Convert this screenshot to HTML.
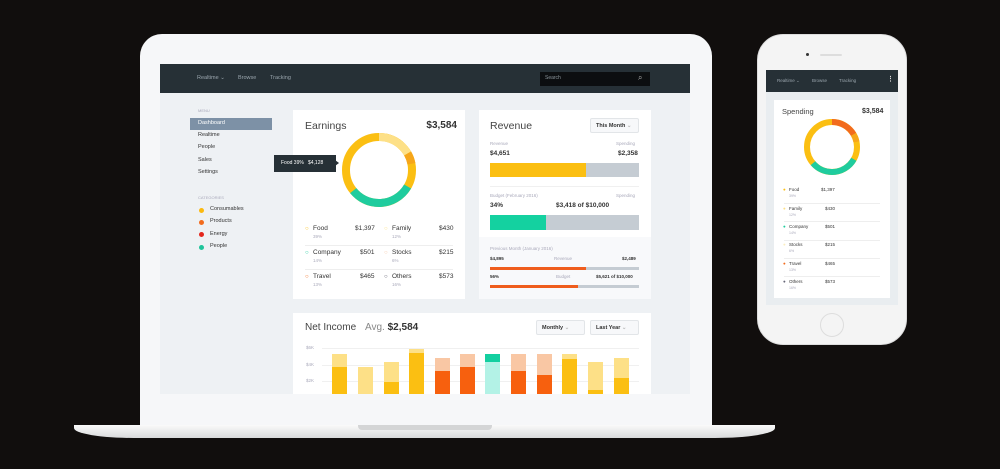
<!DOCTYPE html><html><head><style>
*{margin:0;padding:0;box-sizing:border-box}
body{width:1000px;height:469px;background:#110e0d;position:relative;overflow:hidden;font-family:"Liberation Sans",sans-serif;color:#333}
.a{position:absolute}
.t{position:absolute;font-size:6px;white-space:nowrap;line-height:1}
.g{color:#aab}
.b{font-weight:bold}
.card{position:absolute;background:#fff}
.dd{position:absolute;background:#f7f8fa;border:1px solid #e2e5e8;border-radius:2px;font-size:5.5px;font-weight:bold;padding:4px 0 0 5px;color:#333}
</style></head><body>
<!-- laptop -->
<div class="a" style="left:140px;top:34px;width:572px;height:395px;background:#f6f7f9;border-radius:22px 22px 0 0"></div>
<div class="a" style="left:74px;top:425px;width:701px;height:13px;background:linear-gradient(#fafafa,#d9dadb);border-radius:0 0 60px 60px/0 0 10px 10px"></div>
<div class="a" style="left:358px;top:425px;width:134px;height:5px;background:#d4d5d6;border-radius:0 0 4px 4px"></div>
<div class="a" style="left:160px;top:64px;width:530px;height:330px;background:#eef1f4"></div>
<div class="a" style="left:160px;top:64px;width:530px;height:29px;background:#263036"></div>
<div class="t" style="left:197px;top:76px;color:#9aa5ad;font-size:5.5px">Realtime ⌄</div>
<div class="t" style="left:238px;top:76px;color:#9aa5ad;font-size:5.5px">Browse</div>
<div class="t" style="left:270px;top:76px;color:#9aa5ad;font-size:5.5px">Tracking</div>
<div class="a" style="left:540px;top:72px;width:110px;height:14px;background:#0c0e10"></div>
<div class="t" style="left:545px;top:76px;color:#8a949a;font-size:5px">Search</div>
<div class="t" style="left:638px;top:74px;color:#aaa;font-size:8px">⌕</div>
<!-- sidebar -->
<div class="t g" style="left:198px;top:109px;font-size:4px">MENU</div>
<div class="a" style="left:190px;top:118px;width:82px;height:12px;background:#7d91a6"></div>
<div class="t" style="left:198px;top:121px;color:#fff;font-size:5.5px">Dashboard</div>
<div class="t" style="left:198px;top:133px;font-size:5.5px">Realtime</div>
<div class="t" style="left:198px;top:145px;font-size:5.5px">People</div>
<div class="t" style="left:198px;top:158px;font-size:5.5px">Sales</div>
<div class="t" style="left:198px;top:170px;font-size:5.5px">Settings</div>
<div class="t g" style="left:198px;top:196px;font-size:4px">CATEGORIES</div>
<div class="a" style="left:199px;top:208px;width:5px;height:5px;border-radius:50%;background:#fbb90f"></div><div class="t" style="left:210px;top:207px;font-size:5.5px">Consumables</div>
<div class="a" style="left:199px;top:220px;width:5px;height:5px;border-radius:50%;background:#f26b1d"></div><div class="t" style="left:210px;top:219px;font-size:5.5px">Products</div>
<div class="a" style="left:199px;top:232px;width:5px;height:5px;border-radius:50%;background:#e3261c"></div><div class="t" style="left:210px;top:232px;font-size:5.5px">Energy</div>
<div class="a" style="left:199px;top:245px;width:5px;height:5px;border-radius:50%;background:#1fc49a"></div><div class="t" style="left:210px;top:244px;font-size:5.5px">People</div>
<!-- earnings -->
<div class="card" style="left:293px;top:110px;width:172px;height:189px"></div>
<div class="t" style="left:305px;top:121px;font-size:10.5px;color:#444">Earnings</div>
<div class="t b" style="left:420px;top:121px;font-size:10px;width:37px;text-align:right">$3,584</div>
<svg class="a" style="left:339px;top:130px" width="80" height="80" viewBox="0 0 80 80">
<g transform="rotate(-90 40 40)" fill="none" stroke-width="8">
<circle cx="40" cy="40" r="33" stroke="#fbbf12"/>
<circle cx="40" cy="40" r="33" stroke="#fde087" stroke-dasharray="34.5 173" stroke-dashoffset="0"/>
<circle cx="40" cy="40" r="33" stroke="#f6a61a" stroke-dasharray="11 196" stroke-dashoffset="-34.5"/>
<circle cx="40" cy="40" r="33" stroke="#1fcc9e" stroke-dasharray="64 143" stroke-dashoffset="-69"/>
</g></svg>
<div class="a" style="left:274px;top:155px;width:62px;height:17px;background:#263036"></div>
<div class="a" style="left:335px;top:160px;border:3px solid transparent;border-left:4px solid #263036"></div>
<div class="t" style="left:281px;top:161px;color:#fff;font-size:5px">Food 39% &nbsp; $4,128</div>
<div class="a" style="left:305px;top:245px;width:148px;height:1px;background:#eee"></div>
<div class="a" style="left:305px;top:269px;width:148px;height:1px;background:#eee"></div>
<div class="t" style="left:305px;top:226px;font-size:6px;color:#fbbf12">○</div><div class="t" style="left:313px;top:226px;font-size:6.5px">Food</div><div class="t g" style="left:313px;top:235px;font-size:4.5px">39%</div><div class="t" style="left:355px;top:226px;font-size:6.5px">$1,397</div>
<div class="t" style="left:384px;top:226px;font-size:6px;color:#fde087">○</div><div class="t" style="left:392px;top:226px;font-size:6.5px">Family</div><div class="t g" style="left:392px;top:235px;font-size:4.5px">12%</div><div class="t" style="left:439px;top:226px;font-size:6.5px">$430</div>
<div class="t" style="left:305px;top:250px;font-size:6px;color:#1fcc9e">○</div><div class="t" style="left:313px;top:250px;font-size:6.5px">Company</div><div class="t g" style="left:313px;top:259px;font-size:4.5px">14%</div><div class="t" style="left:360px;top:250px;font-size:6.5px">$501</div>
<div class="t" style="left:384px;top:250px;font-size:6px;color:#f8c8a8">○</div><div class="t" style="left:392px;top:250px;font-size:6.5px">Stocks</div><div class="t g" style="left:392px;top:259px;font-size:4.5px">6%</div><div class="t" style="left:439px;top:250px;font-size:6.5px">$215</div>
<div class="t" style="left:305px;top:274px;font-size:6px;color:#f26b1d">○</div><div class="t" style="left:313px;top:274px;font-size:6.5px">Travel</div><div class="t g" style="left:313px;top:283px;font-size:4.5px">13%</div><div class="t" style="left:360px;top:274px;font-size:6.5px">$465</div>
<div class="t" style="left:384px;top:274px;font-size:6px;color:#556">○</div><div class="t" style="left:392px;top:274px;font-size:6.5px">Others</div><div class="t g" style="left:392px;top:283px;font-size:4.5px">16%</div><div class="t" style="left:439px;top:274px;font-size:6.5px">$573</div>
<!-- revenue -->
<div class="card" style="left:479px;top:110px;width:172px;height:189px"></div>
<div class="a" style="left:479px;top:237px;width:172px;height:62px;background:#f8f9fb"></div>
<div class="t" style="left:490px;top:121px;font-size:10.5px;color:#444">Revenue</div>
<div class="dd" style="left:590px;top:118px;width:49px;height:15px">This Month <span style="color:#bbb">⌄</span></div>
<div class="t g" style="left:490px;top:142px;font-size:4.5px">Revenue</div><div class="t g" style="left:616px;top:142px;font-size:4.5px">Spending</div>
<div class="t b" style="left:490px;top:151px;font-size:6.5px">$4,651</div><div class="t b" style="left:618px;top:151px;font-size:6.5px">$2,358</div>
<div class="a" style="left:490px;top:163px;width:149px;height:14px;background:#c5ccd3"></div>
<div class="a" style="left:490px;top:163px;width:96px;height:14px;background:#fbbf12"></div>
<div class="a" style="left:490px;top:186px;width:149px;height:1px;background:#f0f0f0"></div>
<div class="t g" style="left:490px;top:194px;font-size:4.5px">Budget (February 2016)</div><div class="t g" style="left:616px;top:194px;font-size:4.5px">Spending</div>
<div class="t b" style="left:490px;top:203px;font-size:6.5px">34%</div><div class="t b" style="left:556px;top:203px;font-size:6.5px">$3,418 of $10,000</div>
<div class="a" style="left:490px;top:215px;width:149px;height:15px;background:#c5ccd3"></div>
<div class="a" style="left:490px;top:215px;width:56px;height:15px;background:#14d1a0"></div>
<div class="t g" style="left:490px;top:247px;font-size:4.5px">Previous Month (January 2016)</div>
<div class="t b" style="left:490px;top:257px;font-size:4.5px">$4,895</div><div class="t g" style="left:554px;top:257px;font-size:4.5px">Revenue</div><div class="t b" style="left:622px;top:257px;font-size:4.5px">$2,489</div>
<div class="a" style="left:490px;top:267px;width:149px;height:3px;background:#c5ccd3"></div><div class="a" style="left:490px;top:267px;width:96px;height:3px;background:#ef5d1d"></div>
<div class="t b" style="left:490px;top:275px;font-size:4.5px">56%</div><div class="t g" style="left:556px;top:275px;font-size:4.5px">Budget</div><div class="t b" style="left:596px;top:275px;font-size:4.5px">$5,621 of $10,000</div>
<div class="a" style="left:490px;top:285px;width:149px;height:3px;background:#c5ccd3"></div><div class="a" style="left:490px;top:285px;width:88px;height:3px;background:#ef5d1d"></div>
<!-- net income -->
<div class="card" style="left:293px;top:313px;width:358px;height:81px"></div>
<div class="t" style="left:305px;top:323px;font-size:10px;color:#444">Net Income</div>
<div class="t" style="left:365px;top:323px;font-size:10px;color:#888">Avg. <b style="color:#333">$2,584</b></div>
<div class="dd" style="left:536px;top:320px;width:49px;height:15px">Monthly <span style="color:#bbb">⌄</span></div>
<div class="dd" style="left:590px;top:320px;width:49px;height:15px">Last Year <span style="color:#bbb">⌄</span></div>
<div class="t g" style="left:306px;top:346px;font-size:4.5px">$6K</div>
<div class="t g" style="left:306px;top:363px;font-size:4.5px">$4K</div>
<div class="t g" style="left:306px;top:379px;font-size:4.5px">$2K</div>
<div class="a" style="left:322px;top:348px;width:317px;height:1px;background:#f0f0f0"></div>
<div class="a" style="left:322px;top:365px;width:317px;height:1px;background:#f0f0f0"></div>
<div class="a" style="left:322px;top:381px;width:317px;height:1px;background:#f0f0f0"></div>
<svg class="a" style="left:0;top:0" width="1000" height="394">
<g>
<rect x="332" y="354" width="15" height="40" fill="#fde087"/><rect x="332" y="367" width="15" height="27" fill="#fbbf12"/>
<rect x="358" y="367" width="15" height="27" fill="#fde087"/>
<rect x="384" y="362" width="15" height="32" fill="#fde087"/><rect x="384" y="382" width="15" height="12" fill="#fbbf12"/>
<rect x="409" y="349" width="15" height="45" fill="#fde087"/><rect x="409" y="353" width="15" height="41" fill="#fbbf12"/>
<rect x="435" y="358" width="15" height="36" fill="#f9c7a4"/><rect x="435" y="371" width="15" height="23" fill="#f7600e"/>
<rect x="460" y="354" width="15" height="40" fill="#f9c7a4"/><rect x="460" y="367" width="15" height="27" fill="#f7600e"/>
<rect x="485" y="354" width="15" height="40" fill="#b3f2e6"/><rect x="485" y="354" width="15" height="8" fill="#14cfa0"/>
<rect x="511" y="354" width="15" height="40" fill="#f9c7a4"/><rect x="511" y="371" width="15" height="23" fill="#f7600e"/>
<rect x="537" y="354" width="15" height="40" fill="#f9c7a4"/><rect x="537" y="375" width="15" height="19" fill="#f7600e"/>
<rect x="562" y="354" width="15" height="40" fill="#fde087"/><rect x="562" y="359" width="15" height="35" fill="#fbbf12"/>
<rect x="588" y="362" width="15" height="32" fill="#fde087"/><rect x="588" y="390" width="15" height="4" fill="#fbbf12"/>
<rect x="614" y="358" width="15" height="36" fill="#fde087"/><rect x="614" y="378" width="15" height="16" fill="#fbbf12"/>
</g></svg>
<!-- phone -->
<div class="a" style="left:757px;top:34px;width:150px;height:311px;background:#f4f4f4;border-radius:26px;border:1px solid #ddd"></div>
<div class="a" style="left:806px;top:53px;width:3px;height:3px;border-radius:50%;background:#333"></div>
<div class="a" style="left:820px;top:54px;width:22px;height:2px;border-radius:1px;background:#ddd"></div>
<div class="a" style="left:820px;top:313px;width:24px;height:24px;border-radius:50%;border:1px solid #ddd"></div>
<div class="a" style="left:766px;top:70px;width:132px;height:235px;background:#e9edf0"></div>
<div class="a" style="left:766px;top:70px;width:132px;height:22px;background:#263036"></div>
<div class="t" style="left:777px;top:79px;color:#9aa5ad;font-size:4.5px">Realtime ⌄</div>
<div class="t" style="left:812px;top:79px;color:#9aa5ad;font-size:4.5px">Browse</div>
<div class="t" style="left:839px;top:79px;color:#9aa5ad;font-size:4.5px">Tracking</div>
<div class="t" style="left:887px;top:76px;color:#ddd;font-size:7px;font-weight:bold">⋮</div>
<div class="card" style="left:774px;top:100px;width:116px;height:198px"></div>
<div class="t" style="left:782px;top:108px;font-size:7.5px;color:#444">Spending</div>
<div class="t b" style="left:862px;top:108px;font-size:7px">$3,584</div>
<svg class="a" style="left:802px;top:117px" width="60" height="60" viewBox="0 0 60 60">
<g transform="rotate(-90 30 30)" fill="none" stroke-width="6">
<circle cx="30" cy="30" r="25" stroke="#fbbf12"/>
<circle cx="30" cy="30" r="25" stroke="#f26b1d" stroke-dasharray="26 131"/>
<circle cx="30" cy="30" r="25" stroke="#f6a61a" stroke-dasharray="8 149" stroke-dashoffset="-26"/>
<circle cx="30" cy="30" r="25" stroke="#1fcc9e" stroke-dasharray="48 109" stroke-dashoffset="-52"/>
</g></svg>
<div class="a" style="left:784px;top:203px;width:96px;height:1px;background:#eee"></div>
<div class="a" style="left:784px;top:221px;width:96px;height:1px;background:#eee"></div>
<div class="a" style="left:784px;top:240px;width:96px;height:1px;background:#eee"></div>
<div class="a" style="left:784px;top:258px;width:96px;height:1px;background:#eee"></div>
<div class="a" style="left:784px;top:276px;width:96px;height:1px;background:#eee"></div>
<div class="t" style="left:783px;top:188px;font-size:4.5px;color:#fbbf12">●</div><div class="t" style="left:789px;top:188px;font-size:4.5px">Food</div><div class="t g" style="left:789px;top:195px;font-size:3.5px">39%</div><div class="t" style="left:821px;top:188px;font-size:4.5px">$1,397</div>
<div class="t" style="left:783px;top:207px;font-size:4.5px;color:#fde087">●</div><div class="t" style="left:789px;top:207px;font-size:4.5px">Family</div><div class="t g" style="left:789px;top:214px;font-size:3.5px">12%</div><div class="t" style="left:825px;top:207px;font-size:4.5px">$430</div>
<div class="t" style="left:783px;top:225px;font-size:4.5px;color:#1fcc9e">●</div><div class="t" style="left:789px;top:225px;font-size:4.5px">Company</div><div class="t g" style="left:789px;top:232px;font-size:3.5px">14%</div><div class="t" style="left:825px;top:225px;font-size:4.5px">$501</div>
<div class="t" style="left:783px;top:243px;font-size:4.5px;color:#fbeec0">●</div><div class="t" style="left:789px;top:243px;font-size:4.5px">Stocks</div><div class="t g" style="left:789px;top:250px;font-size:3.5px">6%</div><div class="t" style="left:825px;top:243px;font-size:4.5px">$215</div>
<div class="t" style="left:783px;top:262px;font-size:4.5px;color:#f26b1d">●</div><div class="t" style="left:789px;top:262px;font-size:4.5px">Travel</div><div class="t g" style="left:789px;top:269px;font-size:3.5px">13%</div><div class="t" style="left:825px;top:262px;font-size:4.5px">$465</div>
<div class="t" style="left:783px;top:280px;font-size:4.5px;color:#667">●</div><div class="t" style="left:789px;top:280px;font-size:4.5px">Others</div><div class="t g" style="left:789px;top:287px;font-size:3.5px">16%</div><div class="t" style="left:825px;top:280px;font-size:4.5px">$573</div>
</body></html>
